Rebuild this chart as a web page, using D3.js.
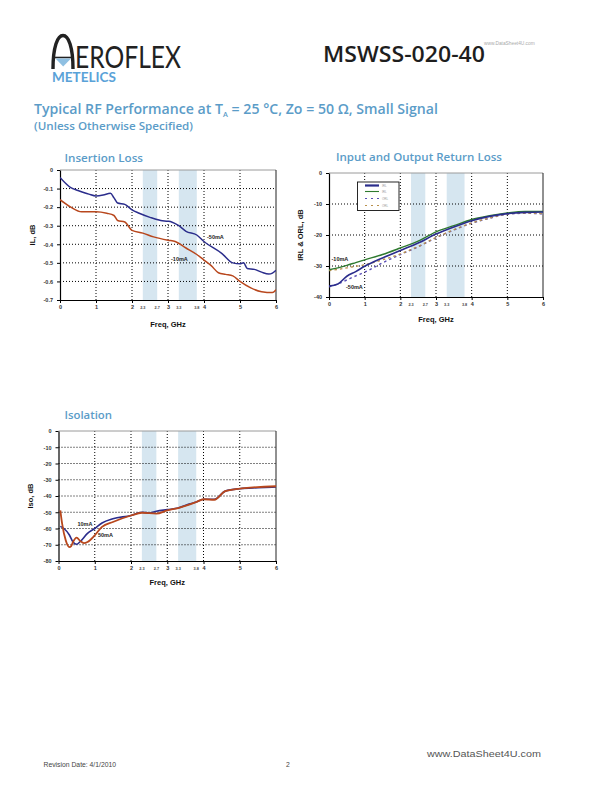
<!DOCTYPE html>
<html><head><meta charset="utf-8">
<script src="https://cdn.jsdelivr.net/npm/d3@7"></script>
<style>body{margin:0;background:#fff} svg{display:block}</style>
</head><body>
<svg id="page" width="612" height="792"></svg>
<script>
// ---------- DATA ----------
const xTickValues = [0, 1, 2, 3, 4, 5, 6];
const xTickLabels = ["0", "1", "2", "3", "4", "5", "6"];
const bandEdges = [[2.3, 2.7], [3.3, 3.8]];
const bandTickValues = [2.3, 2.7, 3.3, 3.8];
const bandTickLabels = ["2.3", "2.7", "3.3", "3.8"];

// Insertion loss
const ilTickValues = [0, -0.1, -0.2, -0.3, -0.4, -0.5, -0.6, -0.7];
const ilTickLabels = ["0", "-0.1", "-0.2", "-0.3", "-0.4", "-0.5", "-0.6", "-0.7"];
const ilFreq50 = [0, 0.3, 0.5, 0.8, 1.0, 1.2, 1.4, 1.5, 1.6, 1.8, 2.0, 2.2, 2.5, 2.8, 3.0, 3.1, 3.3, 3.5, 3.8, 4.0, 4.5, 4.8, 5.0, 5.1, 5.2, 5.4, 5.6, 5.8, 5.9, 6.0];
const il50 = [-0.04, -0.095, -0.11, -0.13, -0.14, -0.135, -0.125, -0.15, -0.178, -0.185, -0.215, -0.233, -0.255, -0.272, -0.276, -0.28, -0.30, -0.33, -0.35, -0.385, -0.45, -0.50, -0.505, -0.50, -0.53, -0.535, -0.55, -0.56, -0.555, -0.54];
const ilFreq10 = [0, 0.3, 0.6, 1.0, 1.3, 1.5, 1.6, 1.8, 2.0, 2.3, 2.6, 3.0, 3.2, 3.5, 3.8, 4.0, 4.2, 4.4, 4.6, 4.8, 5.0, 5.3, 5.6, 5.9, 6.0];
const il10 = [-0.16, -0.2, -0.225, -0.225, -0.233, -0.245, -0.272, -0.28, -0.325, -0.34, -0.36, -0.378, -0.385, -0.42, -0.455, -0.485, -0.515, -0.553, -0.562, -0.57, -0.6, -0.635, -0.655, -0.66, -0.645];

// Return loss
const rlTickValues = [0, -10, -20, -30, -40];
const rlTickLabels = ["0", "-10", "-20", "-30", "-40"];
const rlFreq = [0, 0.25, 0.5, 0.75, 1, 1.5, 2, 2.5, 3, 3.5, 4, 4.5, 5, 5.5, 6];
const irl10 = [-31.2, -30.6, -29.8, -28.9, -28, -26.3, -24.2, -22, -19, -17, -15, -13.8, -12.9, -12.4, -12.4];
const irl50 = [-36.5, -35.8, -33.3, -31.8, -30.1, -27.4, -25, -22.6, -19.7, -17.4, -15.4, -14, -13.1, -12.7, -12.6];
const orl10 = [-31.5, -31.1, -30.6, -30.1, -29.6, -28, -26.1, -23.7, -20.8, -18.3, -16.1, -14.5, -13.2, -12.9, -13.1];
const orl50 = [-36.7, -35.8, -34.5, -33.2, -32, -29, -26.3, -23.8, -20.9, -18.4, -16.2, -14.6, -13.3, -13, -13.2];
const rlLegendLabels = ["IRL", "IRL", "ORL", "ORL"];

// Isolation
const isoTickValues = [0, -10, -20, -30, -40, -50, -60, -70, -80];
const isoTickLabels = ["0", "-10", "-20", "-30", "-40", "-50", "-60", "-70", "-80"];
const isoFreq10 = [0.05, 0.15, 0.3, 0.4, 0.5, 0.6, 0.8, 1, 1.2, 1.5, 2, 2.3, 2.5, 2.7, 3, 3.3, 3.6, 3.8, 4, 4.3, 4.6, 5, 5.5, 6];
const iso10 = [-58.7, -60, -64, -68.3, -69.7, -68, -63, -60, -56.6, -54, -52, -50, -50.5, -49.4, -48.4, -47.4, -45, -43.7, -42, -42, -37, -35.5, -34.9, -34.5];
const isoFreq50 = [0.05, 0.1, 0.2, 0.3, 0.35, 0.4, 0.5, 0.6, 0.7, 0.8, 1, 1.2, 1.5, 2, 2.3, 2.7, 3, 3.3, 3.8, 4, 4.3, 4.6, 5, 6];
const iso50 = [-48.8, -57, -67.3, -71.4, -70.8, -68.3, -65.6, -67.7, -69, -68.3, -64.2, -59, -56, -52, -50.3, -50.9, -48.8, -47.4, -43.7, -42, -42.3, -37, -35.5, -34];

// ---------- STYLE ----------
const BLUE_T = "#5b9cc8";
const NAVY = "#2b2d8c";
const RUST = "#b8471d";
const GREEN = "#2f7a2f";
const PURPLE = "#5a4db5";
const TAN = "#b9904c";
const BAND = "#d6e6f0";
const TF = "'Liberation Sans', Arial, sans-serif";

const svg = d3.select('#page');

// ---------- HEADER ----------
const logo = svg.append('g');
logo.append('path')
  .attr('d', 'M53,69 C53,47 57.5,35.5 63,35.5 C68.5,35.5 73,47 73,69')
  .attr('fill', 'none').attr('stroke', '#222').attr('stroke-width', 3.4);
logo.append('line').attr('x1', 53).attr('x2', 74).attr('y1', 57.5).attr('y2', 57.5)
  .attr('stroke', '#222').attr('stroke-width', 1.6);
logo.append('path').attr('d', 'M55.5,58.5 L71,58.5 L63.2,66.5 Z').attr('fill', '#8fc0e2');
logo.append('text').attr('x', 75).attr('y', 67.5).text('EROFLEX')
  .attr('font-family', "'Lato', sans-serif").attr('font-weight', 400)
  .attr('font-size', 31).attr('fill', '#222')
  .attr('textLength', 106).attr('lengthAdjust', 'spacingAndGlyphs');
logo.append('text').attr('x', 52).attr('y', 81.5).text('METELICS')
  .attr('font-family', "'Lato', sans-serif").attr('font-weight', 700)
  .attr('font-size', 12.5).attr('fill', '#5aa2d8')
  .attr('textLength', 64).attr('lengthAdjust', 'spacingAndGlyphs');

svg.append('text').attr('x', 323).attr('y', 62).text('MSWSS-020-40')
  .attr('font-family', "'Open Sans', sans-serif").attr('font-weight', 600)
  .attr('font-size', 21).attr('fill', '#1e1e1e')
  .attr('textLength', 162).attr('lengthAdjust', 'spacingAndGlyphs');
svg.append('text').attr('x', 484).attr('y', 45).text('www.DataSheet4U.com')
  .attr('font-family', TF).attr('font-size', 4.8).attr('fill', '#aaa');

const title = svg.append('text').attr('x', 34).attr('y', 114)
  .attr('font-family', "'Open Sans', sans-serif").attr('font-weight', 600)
  .attr('font-size', 13.5).attr('fill', BLUE_T)
  .attr('textLength', 404).attr('lengthAdjust', 'spacingAndGlyphs');
title.append('tspan').text('Typical RF Performance at T');
title.append('tspan').attr('dy', 3).attr('font-size', 7).text('A');
title.append('tspan').attr('dy', -3).text(' = 25 °C, Zo = 50 Ω, Small Signal');
svg.append('text').attr('x', 34).attr('y', 130).text('(Unless Otherwise Specified)')
  .attr('font-family', "'Open Sans', sans-serif").attr('font-weight', 600)
  .attr('font-size', 10).attr('fill', BLUE_T)
  .attr('textLength', 159).attr('lengthAdjust', 'spacingAndGlyphs');

// ---------- CHART FUNCTION ----------
function chart(cfg) {
  const g = svg.append('g');
  const x = d3.scaleLinear().domain([0, 6]).range([cfg.L, cfg.R]);
  const y = d3.scaleLinear().domain([0, cfg.yMin]).range([cfg.T, cfg.B]);
  const clipId = 'clip' + Math.round(cfg.T);
  g.append('clipPath').attr('id', clipId).append('rect')
    .attr('x', cfg.L).attr('y', cfg.T - 1).attr('width', cfg.R - cfg.L).attr('height', cfg.B - cfg.T + 2);

  // title
  g.append('text').attr('x', cfg.titleX).attr('y', cfg.titleY).text(cfg.title)
    .attr('font-family', "'Open Sans', sans-serif").attr('font-weight', 600)
    .attr('font-size', 11.5).attr('fill', BLUE_T)
    .attr('textLength', cfg.titleW).attr('lengthAdjust', 'spacingAndGlyphs');

  // bands
  g.selectAll('rect.band').data(bandEdges).enter().append('rect')
    .attr('x', d => x(d[0])).attr('y', cfg.T)
    .attr('width', d => x(d[1]) - x(d[0])).attr('height', cfg.B - cfg.T)
    .attr('fill', BAND);

  // grid
  g.selectAll('line.vg').data(xTickValues.slice(1, -1)).enter().append('line')
    .attr('x1', d => x(d)).attr('x2', d => x(d)).attr('y1', cfg.T).attr('y2', cfg.B)
    .attr('stroke', '#000').attr('stroke-width', 1).attr('stroke-dasharray', '1,2');
  g.selectAll('line.hg').data(cfg.yTicks.slice(1, -1)).enter().append('line')
    .attr('x1', cfg.L).attr('x2', cfg.R).attr('y1', d => y(d)).attr('y2', d => y(d))
    .attr('stroke', '#000').attr('stroke-width', 1).attr('stroke-dasharray', '1,2');

  // borders
  g.append('line').attr('x1', cfg.L).attr('x2', cfg.R).attr('y1', cfg.T).attr('y2', cfg.T)
    .attr('stroke', '#9a9a9a').attr('stroke-width', 1);
  g.append('line').attr('x1', cfg.R).attr('x2', cfg.R).attr('y1', cfg.T).attr('y2', cfg.B)
    .attr('stroke', '#222').attr('stroke-width', 1);

  // axes
  const ya = g.append('g').attr('transform', `translate(${cfg.L},0)`)
    .call(d3.axisLeft(y).tickValues(cfg.yTicks).tickSize(3).tickSizeOuter(0)
      .tickFormat((d, i) => cfg.yLabels[i]));
  const xa = g.append('g').attr('transform', `translate(0,${cfg.B})`)
    .call(d3.axisBottom(x).tickValues(xTickValues).tickSize(3).tickSizeOuter(0)
      .tickFormat((d, i) => xTickLabels[i]));
  [ya, xa].forEach(a => {
    a.select('.domain').attr('stroke', '#000').attr('stroke-width', 1.2);
    a.selectAll('.tick line').attr('stroke', '#000');
    a.selectAll('.tick text').attr('font-family', TF).attr('font-weight', 700)
      .attr('font-size', 5.5).attr('fill', '#333');
  });
  ya.selectAll('.tick text').attr('x', -7);
  xa.selectAll('.tick text').attr('y', 5);
  g.selectAll('text.bt').data(bandTickValues).enter().append('text')
    .attr('x', d => x(d)).attr('y', cfg.B + 8.8).attr('text-anchor', 'middle')
    .text((d, i) => bandTickLabels[i])
    .attr('font-family', TF).attr('font-weight', 700).attr('font-size', 3.8).attr('fill', '#444');

  // axis titles
  g.append('text').attr('x', (cfg.L + cfg.R) / 2).attr('y', cfg.xTitleY).attr('text-anchor', 'middle')
    .text('Freq, GHz').attr('font-family', TF).attr('font-weight', 700).attr('font-size', 7.5).attr('fill', '#111');
  g.append('text').attr('transform', `translate(${cfg.yTitleX},${(cfg.T + cfg.B) / 2}) rotate(-90)`)
    .attr('text-anchor', 'middle').text(cfg.yTitle)
    .attr('font-family', TF).attr('font-weight', 700).attr('font-size', 7.5).attr('fill', '#111');

  // series
  const line = d3.line().x(d => x(d[0])).y(d => y(d[1])).curve(d3.curveMonotoneX);
  const lg = g.append('g').attr('clip-path', `url(#${clipId})`);
  cfg.series.forEach(s => {
    const pts = s.f.map((f, i) => [f, s.v[i]]);
    lg.append('path').attr('d', line(pts)).attr('fill', 'none')
      .attr('stroke', s.color).attr('stroke-width', s.w || 1.5)
      .attr('stroke-dasharray', s.dash || null).attr('stroke-linejoin', 'round');
  });

  // annotations
  cfg.notes.forEach(n => {
    g.append('text').attr('x', n.x).attr('y', n.y).text(n.t)
      .attr('font-family', TF).attr('font-weight', 700).attr('font-size', 5.5).attr('fill', '#222');
  });
  return { g, x, y };
}

// Insertion loss
chart({
  L: 60, R: 276, T: 170, B: 300, yMin: -0.7,
  yTicks: ilTickValues, yLabels: ilTickLabels, yTitle: 'IL, dB', yTitleX: 35,
  xTitleY: 327, title: 'Insertion Loss', titleX: 64.5, titleY: 161.5, titleW: 78.5,
  series: [
    { f: ilFreq50, v: il50, color: NAVY, w: 1.5 },
    { f: ilFreq10, v: il10, color: RUST, w: 1.5 }
  ],
  notes: [{ x: 207, y: 239, t: '-50mA' }, { x: 171, y: 260.5, t: '-10mA' }]
});

// Return loss
const rl = chart({
  L: 329, R: 543, T: 173, B: 297, yMin: -40,
  yTicks: rlTickValues, yLabels: rlTickLabels, yTitle: 'IRL & ORL, dB', yTitleX: 303,
  xTitleY: 322, title: 'Input and Output Return Loss', titleX: 336, titleY: 161, titleW: 166,
  series: [
    { f: rlFreq, v: orl50, color: PURPLE, w: 1.4, dash: '2.5,3' },
    { f: rlFreq, v: orl10, color: TAN, w: 1.4, dash: '2.5,3' },
    { f: rlFreq, v: irl10, color: GREEN, w: 1.4 },
    { f: rlFreq, v: irl50, color: NAVY, w: 1.6 }
  ],
  notes: [{ x: 331.5, y: 261, t: '-10mA' }, { x: 346, y: 289, t: '-50mA' }]
});
// legend
const leg = rl.g.append('g');
leg.append('rect').attr('x', 357.5).attr('y', 182).attr('width', 41.5).attr('height', 28.5)
  .attr('fill', '#fff').attr('stroke', '#111').attr('stroke-width', 0.9);
const legStyles = [
  { color: NAVY, w: 2.2, dash: null },
  { color: GREEN, w: 1.1, dash: null },
  { color: PURPLE, w: 1.1, dash: '2,4' },
  { color: TAN, w: 1.1, dash: '2,4' }
];
const legY = [185.5, 191.5, 198.5, 205.5];
legStyles.forEach((s, i) => {
  leg.append('line').attr('x1', 365).attr('x2', 379).attr('y1', legY[i]).attr('y2', legY[i])
    .attr('stroke', s.color).attr('stroke-width', s.w).attr('stroke-dasharray', s.dash);
  leg.append('text').attr('x', 382).attr('y', legY[i] + 1).text(rlLegendLabels[i])
    .attr('font-family', TF).attr('font-size', 3).attr('fill', '#999');
});

// Isolation
chart({
  L: 58.5, R: 276, T: 431, B: 561, yMin: -80,
  yTicks: isoTickValues, yLabels: isoTickLabels, yTitle: 'Iso, dB', yTitleX: 33,
  xTitleY: 585, title: 'Isolation', titleX: 64.5, titleY: 419, titleW: 47.5,
  series: [
    { f: isoFreq10, v: iso10, color: NAVY, w: 1.6 },
    { f: isoFreq50, v: iso50, color: RUST, w: 1.8 }
  ],
  notes: [{ x: 77.5, y: 526, t: '10mA' }, { x: 98, y: 537, t: '50mA' }]
});

// ---------- FOOTER ----------
svg.append('text').attr('x', 427).attr('y', 757).text('www.DataSheet4U.com')
  .attr('font-family', TF).attr('font-size', 8.3).attr('fill', '#555')
  .attr('textLength', 114).attr('lengthAdjust', 'spacingAndGlyphs');
svg.append('text').attr('x', 43.5).attr('y', 767).text('Revision Date:  4/1/2010')
  .attr('font-family', TF).attr('font-size', 6.8).attr('fill', '#444');
svg.append('text').attr('x', 286).attr('y', 767).text('2')
  .attr('font-family', TF).attr('font-size', 6.8).attr('fill', '#444');
</script>
</body></html>
